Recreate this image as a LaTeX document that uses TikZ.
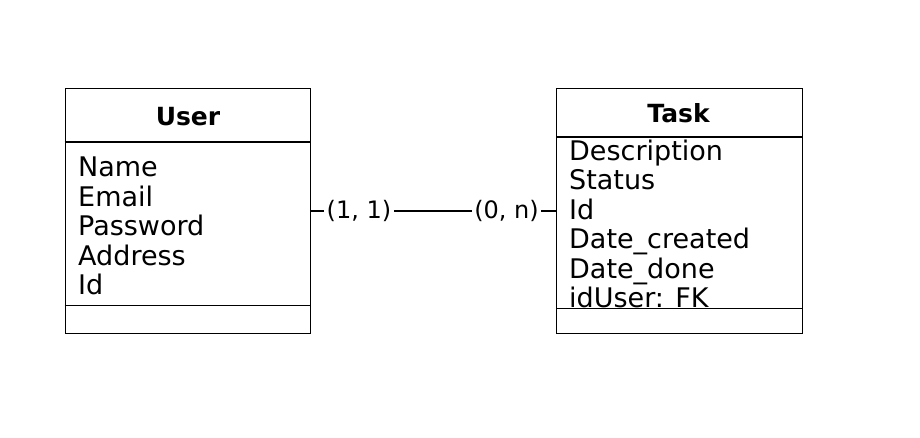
\documentclass[tikz,border=0pt]{standalone}
\usepackage{fontspec}
\setmainfont{DejaVu Sans}
\begin{document}
\begin{tikzpicture}[x=1pt,y=-1pt,
  entity/.style={draw=black, line width=1.3pt, minimum width=245.5pt, minimum height=245.5pt, inner sep=0pt, anchor=north west},
  divider/.style={line width=1.3pt},
  title/.style={font=\fontsize{25}{30}\selectfont\bfseries, anchor=base, inner sep=0pt},
  attrs/.style={font=\fontsize{27}{29.5}\selectfont, anchor=base west, inner sep=0pt, align=left},
  card/.style={font=\fontsize{24}{28}\selectfont, fill=white, inner xsep=2.5pt, inner ysep=1pt},
  link/.style={line width=1.3pt}]
\useasboundingbox (0,0) rectangle (920,437);
% entities
\node[entity] (user) at (64.5,87.5) {};
\node[entity] (task) at (556,87.5) {};
% dividers
\coordinate (uh) at (0,142);
\coordinate (uf) at (0,305.5);
\coordinate (th) at (0,137);
\coordinate (tf) at (0,308.5);
\draw[divider] (user.west |- uh) -- (user.east |- uh);
\draw[divider] (user.west |- uf) -- (user.east |- uf);
\draw[divider] (task.west |- th) -- (task.east |- th);
\draw[divider] (task.west |- tf) -- (task.east |- tf);
% titles
\node[title] (usertitle) at (188,125) {User};
\node[title] (tasktitle) at (678.5,122) {Task};
% attributes (anchored at the baseline of the last line)
\node[attrs] (userattrs) at (78,294.5) {Name\\Email\\Password\\Address\\Id};
\node[attrs] (taskattrs) at (569,307.5) {Description\\Status\\Id\\Date\_created\\Date\_done\\idUser: FK};
% relation
\draw[link] (user.east) -- (task.west);
\node[card] (c1) at (359,211) {(1, 1)};
\node[card] (c2) at (506.5,211) {(0, n)};
\end{tikzpicture}
\end{document}
